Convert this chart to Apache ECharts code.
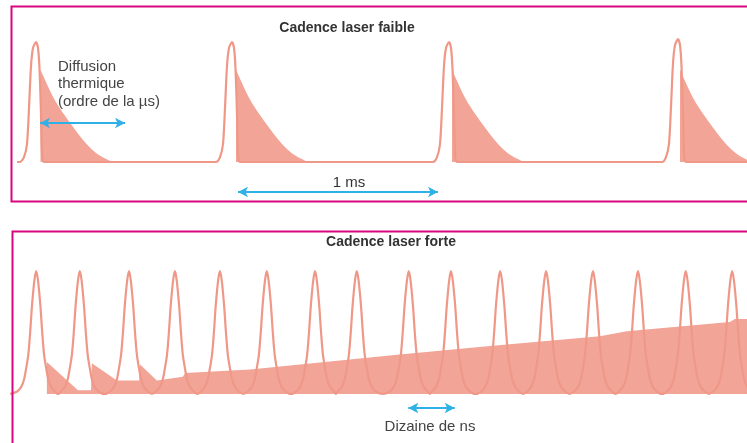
<!DOCTYPE html>
<html>
<head>
<meta charset="utf-8">
<script src="https://cdn.jsdelivr.net/npm/echarts@6/dist/echarts.min.js"></script>
<style>
  html, body { margin: 0; padding: 0; background: #ffffff; }
  #chart { width: 747px; height: 443px; }
</style>
</head>
<body>
<div id="chart"></div>
<script>
// ---- Low repetition rate (time in ms, normalised intensity) ----
const slowPeaks = [0.18, 1.16, 2.245, 3.39];
const slowPeakHeights = [1, 1, 1, 1.025];
const slowPulseOffsets = [-0.08, -0.06, -0.045, -0.035, -0.025, -0.015, 0, 0.01, 0.0175, 0.025, 0.03, 0.04];
const slowPulseLevels  = [0, 0.04, 0.15, 0.45, 0.8, 0.95, 1, 0.95, 0.78, 0.4, 0.08, 0];
const slowTraceStart = 0.085;
const slowWindowEnd = 3.735;
// Thermal diffusion tail following each pulse
const slowTailStarts  = [0.2025, 1.18, 2.26, 3.40];
const slowTailOffsets = [0, 0.07, 0.15, 0.23, 0.29, 0.36];
const slowTailLevels  = [0.77, 0.52, 0.32, 0.15, 0.06, 0];

// ---- High repetition rate (time in ns, normalised intensity) ----
const fastPeaks = [7.8, 17.2, 27.8, 37.7, 47.4, 57.5, 67.9, 76.9, 88.1, 97.2, 107.8, 117.7, 127.8, 137.5, 147.8, 157.8];
const fastPulseOffsets = [-4.1, -3.2, -2.6, -2.2, -1.7, -1.3, -0.9, -0.4, 0, 0.4, 0.9, 1.3, 1.7, 2.2, 2.6, 3.2, 4.1];
const fastPulseLevels  = [0.02, 0.06, 0.12, 0.2, 0.32, 0.5, 0.72, 0.92, 1, 0.92, 0.72, 0.5, 0.32, 0.2, 0.12, 0.06, 0.02];
const fastTraceStart = 2.2;
const fastWindowEnd = 161;
// Accumulated heat: upper edge of the shaded region
const heatTimes  = [10.1, 16.8, 19.6, 19.8, 25.2, 30.0, 30.2, 33.8, 39.4, 39.9, 53.9, 85.6, 105.6, 129.3, 135.1, 157.3, 158.4, 161];
const heatLevels = [0.26, 0.03, 0.03, 0.25, 0.11, 0.11, 0.24, 0.11, 0.14, 0.17, 0.20, 0.32, 0.39, 0.47, 0.51, 0.585, 0.61, 0.61];

// Annotation arrows: [x0, x1, level]
const diffusionArrow = [0.2, 0.625, 0.325];
const periodArrow = [1.19, 2.19, -0.25];
const fastPeriodArrow = [88, 98, -0.114];

const TRACE = '#ef9888';
const FILL = '#f2a497';
const ARROW = '#2fb0e6';
const FRAME = '#d8067f';
const FONT = '"Liberation Sans", Arial, Helvetica, sans-serif';

function buildTrace(start, end, peaks, heights, offsets, levels) {
  const pts = [[start, 0]];
  peaks.forEach((p, i) => {
    if (i > 0) pts.push([(peaks[i - 1] + p) / 2, 0]);
    offsets.forEach((o, j) => pts.push([p + o, levels[j] * (heights ? heights[i] : 1)]));
  });
  pts.push([end, 0]);
  return pts;
}

function tail(start) {
  return slowTailOffsets.map((o, j) => [start + o, slowTailLevels[j]]);
}

function arrow(a) {
  return {
    silent: true,
    symbol: ['arrow', 'arrow'],
    symbolSize: [8, 10],
    label: { show: false },
    lineStyle: { color: ARROW, width: 2, type: 'solid' },
    data: [[{ coord: [a[0], a[2]] }, { coord: [a[1], a[2]] }]]
  };
}

const slowSeries = slowTailStarts.map(s => ({
  type: 'line', xAxisIndex: 0, yAxisIndex: 0,
  data: tail(s), smooth: 0.3, showSymbol: false, silent: true,
  lineStyle: { width: 0 }, areaStyle: { color: FILL, opacity: 1 }, z: 1
}));

const chart = echarts.init(document.getElementById('chart'), null, { renderer: 'canvas' });
chart.setOption({
  animation: false,
  backgroundColor: '#ffffff',
  grid: [
    { left: 0, top: 18, width: 747, height: 192 },
    { left: 0, top: 246.4, width: 747, height: 184.5 }
  ],
  xAxis: [
    { type: 'value', gridIndex: 0, min: 0, max: slowWindowEnd, show: false },
    { type: 'value', gridIndex: 1, min: 0, max: fastWindowEnd, show: false }
  ],
  yAxis: [
    { type: 'value', gridIndex: 0, min: -0.4, max: 1.2, show: false },
    { type: 'value', gridIndex: 1, min: -0.3, max: 1.2, show: false }
  ],
  series: slowSeries.concat([
    {
      type: 'line', xAxisIndex: 0, yAxisIndex: 0,
      data: buildTrace(slowTraceStart, slowWindowEnd, slowPeaks, slowPeakHeights, slowPulseOffsets, slowPulseLevels),
      smooth: 0.25, showSymbol: false, silent: true,
      lineStyle: { color: TRACE, width: 2.2 }, z: 3,
      markLine: arrow(diffusionArrow)
    },
    {
      type: 'line', xAxisIndex: 0, yAxisIndex: 0, data: [], silent: true,
      markLine: arrow(periodArrow)
    },
    {
      type: 'line', xAxisIndex: 1, yAxisIndex: 1,
      data: heatTimes.map((t, i) => [t, heatLevels[i]]),
      showSymbol: false, silent: true,
      lineStyle: { width: 0 }, areaStyle: { color: FILL, opacity: 1 }, z: 1
    },
    {
      type: 'line', xAxisIndex: 1, yAxisIndex: 1,
      data: buildTrace(fastTraceStart, fastWindowEnd, fastPeaks, null, fastPulseOffsets, fastPulseLevels),
      smooth: 0.3, showSymbol: false, silent: true,
      lineStyle: { color: TRACE, width: 2.2 }, z: 3,
      markLine: arrow(fastPeriodArrow)
    }
  ]),
  graphic: [
    { type: 'rect', shape: { x: 11.5, y: 6.5, width: 800, height: 195 },
      style: { fill: null, stroke: FRAME, lineWidth: 2 }, z: 10 },
    { type: 'rect', shape: { x: 12.5, y: 231.5, width: 800, height: 300 },
      style: { fill: null, stroke: FRAME, lineWidth: 2 }, z: 10 },
    { type: 'text', x: 347, y: 28, style: { text: 'Cadence laser faible', font: 'bold 14px ' + FONT,
      fill: '#333333', textAlign: 'center', textVerticalAlign: 'middle' }, z: 10 },
    { type: 'text', x: 58, y: 58, style: { text: 'Diffusion\nthermique\n(ordre de la µs)', font: '15px ' + FONT,
      lineHeight: 17.5, fill: '#444444', textAlign: 'left', textVerticalAlign: 'top' }, z: 10 },
    { type: 'text', x: 349, y: 183, style: { text: '1 ms', font: '15px ' + FONT,
      fill: '#333333', textAlign: 'center', textVerticalAlign: 'middle' }, z: 10 },
    { type: 'text', x: 391, y: 242, style: { text: 'Cadence laser forte', font: 'bold 14px ' + FONT,
      fill: '#333333', textAlign: 'center', textVerticalAlign: 'middle' }, z: 10 },
    { type: 'text', x: 430, y: 427, style: { text: 'Dizaine de ns', font: '15px ' + FONT,
      fill: '#444444', textAlign: 'center', textVerticalAlign: 'middle' }, z: 10 }
  ]
});
</script>
</body>
</html>
